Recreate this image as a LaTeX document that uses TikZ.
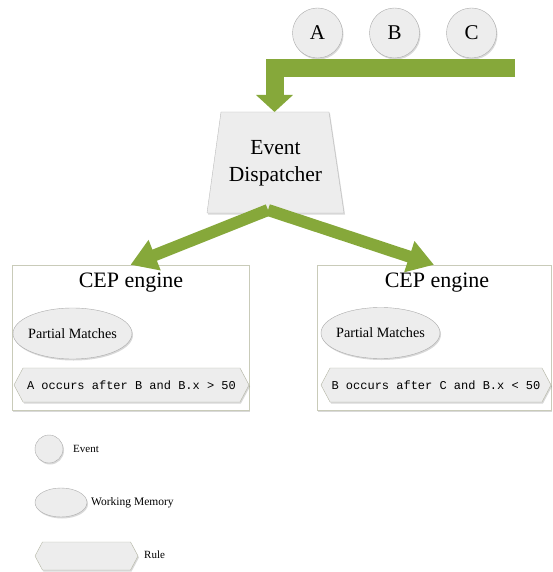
\documentclass[tikz,border=0pt]{standalone}
\usepackage{fontspec}
\setmainfont{Liberation Serif}
\setmonofont{Liberation Mono}
\usetikzlibrary{shapes.geometric,shapes.symbols,arrows.meta,shadows}

\definecolor{flowgreen}{HTML}{86A83A}
\definecolor{shapefill}{HTML}{EDEDED}
\definecolor{shapeline}{HTML}{ABABAB}
\definecolor{boxline}{HTML}{C9CBB9}

\tikzset{
  softshadow/.style={drop shadow={shadow xshift=1pt,shadow yshift=-1.5pt,opacity=0.25,fill=black!60}},
  evtnode/.style={circle,draw=shapeline,fill=shapefill,softshadow,minimum size=50pt,inner sep=0pt,
    font=\fontsize{21}{24}\selectfont},
  memnode/.style={ellipse,draw=shapeline,fill=shapefill,softshadow,minimum width=119pt,minimum height=51pt,
    inner xsep=-14pt,inner ysep=-3pt,font=\fontsize{14.2}{16}\selectfont},
  rulenode/.style={signal,signal to=west and east,signal pointer angle=124,draw=boxline!90!black,fill=shapefill,
    softshadow,minimum height=34pt,inner sep=0pt,font=\ttfamily\fontsize{12}{14}\selectfont},
  cepbox/.style={rectangle,draw=boxline,fill=white,softshadow,minimum height=145pt,inner sep=0pt},
  ceptitle/.style={font=\fontsize{22}{26}\selectfont,inner sep=0pt},
  flowbar/.style={draw=flowgreen,line width=18pt,line join=miter,-{Triangle[width=36pt,length=17pt]}},
  flowarrow/.style={draw=flowgreen,line width=12pt,-{Triangle[width=31pt,length=26pt]}},
  legendtext/.style={anchor=west,inner sep=0pt,font=\fontsize{11}{13}\selectfont},
}

\begin{document}
\begin{tikzpicture}[x=1pt,y=-1pt]
\useasboundingbox (0,0) rectangle (552,572);

% incoming events
\node[evtnode] (A) at (317.5,33) {A};
\node[evtnode] (B) at (394.5,33) {B};
\node[evtnode] (C) at (471.5,33) {C};

% dispatcher
\path[fill=shapefill,draw=shapeline!80,softshadow]
  (221,112) -- (329,112) -- (344,213) -- (207,213) -- cycle;
\node[align=center,inner sep=0pt,font=\fontsize{21.5}{27}\selectfont] (disp) at (275.5,163) {Event\\Dispatcher};
\coordinate (dtop) at (274.5,112);
\coordinate (dsplit) at (268,210);

% event stream into the dispatcher
\coordinate (stream) at (515,68.5);
\draw[flowbar] (stream) -- (274.5,68.5) -- (dtop);

% CEP engines
\node[cepbox,minimum width=237pt] (eng1) at (130.5,337.5) {};
\node[cepbox,minimum width=234pt] (eng2) at (434,337.5) {};

\node[ceptitle] (t1) at (131,283) {CEP engine};
\node[ceptitle] (t2) at (437,283) {CEP engine};

\node[memnode] (m1) at (72.5,333.5) {Partial Matches};
\node[memnode] (m2) at (380.5,333) {Partial Matches};

\node[rulenode,minimum width=235pt] (r1) at (131.5,385) {A occurs after B and B.x > 50};
\node[rulenode,minimum width=230pt] (r2) at (436,385) {B occurs after C and B.x < 50};

% dispatching to the engines
\draw[flowarrow] (dsplit) -- (eng1.north);
\draw[flowarrow] (dsplit) -- (eng2.north);

% legend
\node[circle,draw=shapeline,fill=shapefill,softshadow,minimum size=28pt,inner sep=0pt] (lev) at (49,449) {};
\node[legendtext] (levt) at (73,449) {Event};
\node[ellipse,draw=shapeline,fill=shapefill,softshadow,minimum width=52pt,minimum height=29pt,inner sep=0pt] (lwm) at (61,502.5) {};
\node[legendtext,font=\fontsize{11.5}{13}\selectfont] (lwmt) at (91,502.5) {Working Memory};
\node[signal,signal to=west and east,signal pointer angle=124,draw=boxline!90!black,fill=shapefill,softshadow,
  minimum width=103pt,minimum height=28pt,inner sep=0pt] (lru) at (86.5,556) {};
\node[legendtext] (lrut) at (144,555) {Rule};
\end{tikzpicture}
\end{document}
